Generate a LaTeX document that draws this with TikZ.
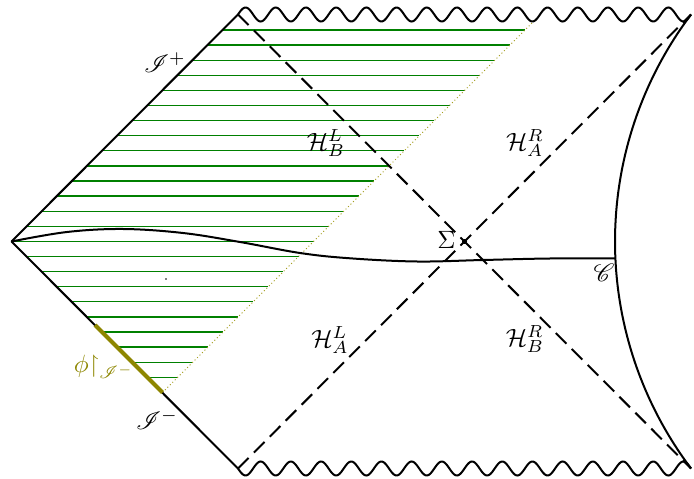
\documentclass[tikz,border=0pt]{standalone}
\usepackage{amssymb}
\usepackage{mathrsfs}
\begin{document}
\begin{tikzpicture}[x=0.4pt,y=-0.4pt,
  bdry/.style={thick,line join=round},
  horizon/.style={thick,dash pattern=on 6pt off 3pt},
  hatch/.style={green!50!black,line width=0.5pt},
  wavy/.style={thick},
  lbl/.style={inner sep=0pt}]
\useasboundingbox (0,0) rectangle (694,479);
% key points
\coordinate (L) at (11.5,241.5);
\coordinate (TL) at (238,14.5);
\coordinate (BL) at (238,468.5);
\coordinate (TR) at (691,14.5);
\coordinate (BR) at (691,468.5);
\coordinate (S) at (464.5,241.5);
\coordinate (P1) at (95,325);
\coordinate (P2) at (162.5,392.5);
\coordinate (D) at (532,23);
\coordinate (C) at (615,258.5);
% hatching
\foreach \k in {0,...,23}{
  \pgfmathsetmacro{\yy}{30+15.1*\k}
  \pgfmathsetmacro{\xl}{11.5+abs(\yy-241.5)}
  \pgfmathsetmacro{\xr}{162.5+392.5-\yy}
  \draw[hatch] (\xl,\yy) -- (\xr,\yy);
}
% dotted boundary of hatched region
\draw[olive!80,line width=0.4pt,dash pattern=on 0.4pt off 1pt] (P2) -- (D);
% left boundary (scri)
\draw[bdry] (TL) -- (L) -- (BL);
\draw[olive,line width=1.6pt] (P1) -- (P2);
% horizons
\draw[horizon] (TL) -- (BR);
\draw[horizon] (BL) -- (TR);
% singularities
\draw[wavy] plot[domain=238:691,samples=400] (\x,{14.5-7*sin((\x-238)*11.9205)});
\draw[wavy] plot[domain=238:691,samples=400] (\x,{468.5+7*sin((\x-238)*11.9205)});
% right boundary
\draw[bdry] plot[domain=-37.02:37.02,samples=100] ({992-377*cos(\x)},{241.5+377*sin(\x)});
% Cauchy surface
\draw[thick] plot[smooth,tension=0.6] coordinates {(11.5,241.5) (67,232) (123,229) (183,233) (240,242) (300,253) (350,258.3) (417,261.5) (483,260) (550,258.5) (C)};
\fill (S) circle (1pt);
\fill (166,279) circle (0.35pt);
% labels
\node[lbl] (scrip) at (165,63) {$\mathscr{I}^+$};
\node[lbl] (scrim) at (157,420) {$\mathscr{I}^-$};
\node[lbl,text=olive] (phi) at (104,367) {$\phi{\restriction}_{\mathscr{I}^-}$};
\node[lbl] (hbl) at (326,143) {$\mathcal{H}_B^L$};
\node[lbl] (har) at (525,143) {$\mathcal{H}_A^R$};
\node[lbl] (hal) at (330,340) {$\mathcal{H}_A^L$};
\node[lbl] (hbr) at (525,339) {$\mathcal{H}_B^R$};
\node[lbl] (sig) at (446.5,240) {$\Sigma$};
\node[lbl] (cc) at (604,272.5) {$\mathscr{C}$};
\end{tikzpicture}
\end{document}
